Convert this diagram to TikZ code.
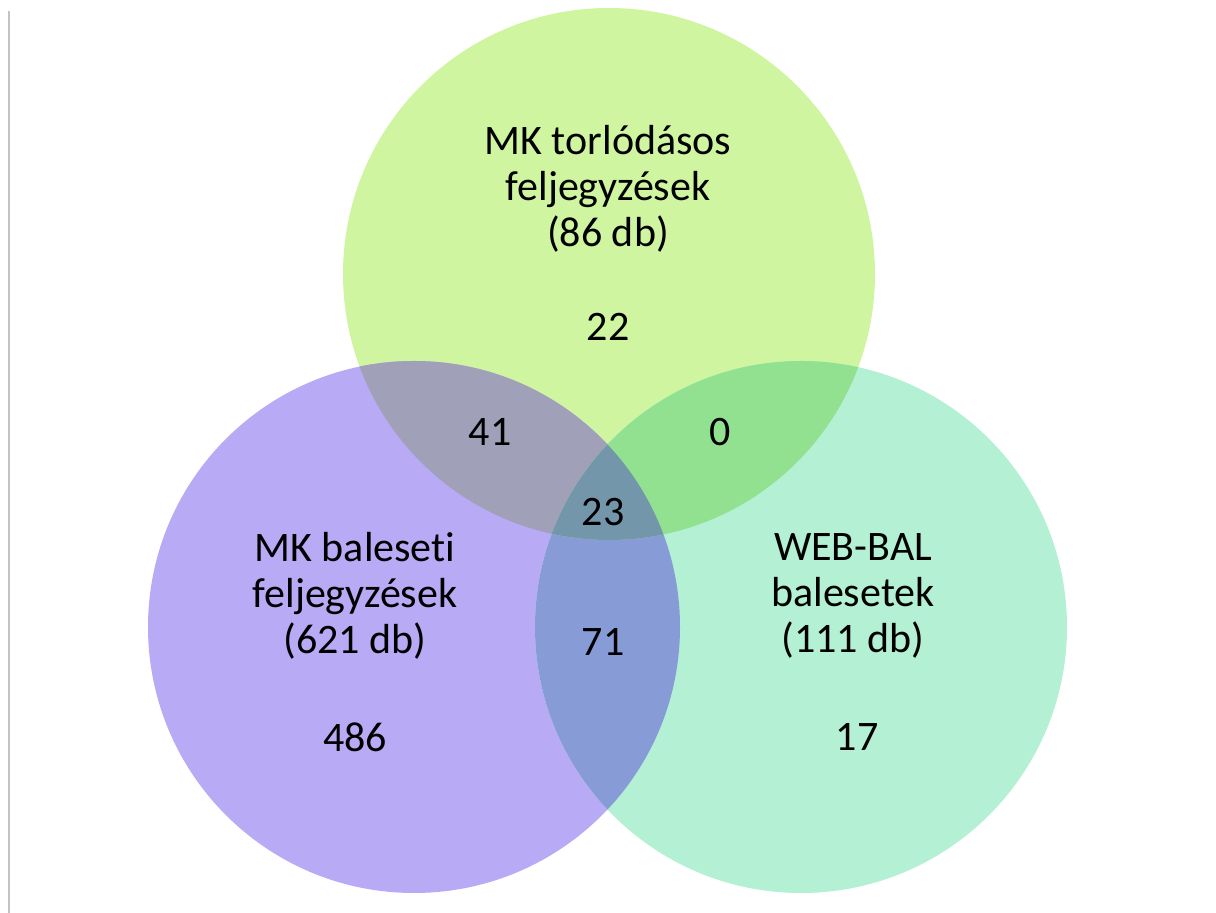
\documentclass[tikz,border=0pt]{standalone}
\usepackage{fontspec}
\setmainfont{Carlito}[Ligatures=NoCommon]
\usepackage{tikz}
\usetikzlibrary{positioning}

\definecolor{torlColor}{RGB}{207,245,160}
\definecolor{balColor}{RGB}{184,170,245}
\definecolor{webColor}{RGB}{180,240,212}
\definecolor{torlBalColor}{RGB}{160,160,185}
\definecolor{torlWebColor}{RGB}{145,225,145}
\definecolor{balWebColor}{RGB}{135,155,215}
\definecolor{allColor}{RGB}{115,150,170}
\definecolor{frameGray}{RGB}{195,195,195}

\newcommand{\rad}{133pt}

\begin{document}
\begin{tikzpicture}[x=0.5pt, y=-0.5pt, every node/.style={font=\fontsize{21}{23}\selectfont}]
\tikzstyle{setlabel} = [align=center, inner sep=0pt]
\tikzstyle{count} = [inner sep=0pt]

\useasboundingbox (0,0) rectangle (1216,913);

% Frame line
\draw[line width=1pt, frameGray] (9,11) -- (9,913);

% Centres
\coordinate (cT) at (609,274);
\coordinate (cL) at (414,627);
\coordinate (cR) at (801,627);

% Circles
\fill[torlColor] (cT) circle (\rad);
\fill[balColor] (cL) circle (\rad);
\fill[webColor] (cR) circle (\rad);

% Overlaps
\begin{scope}
  \clip (cL) circle (\rad);
  \fill[balWebColor] (cR) circle (\rad);
\end{scope}
\begin{scope}
  \clip (cT) circle (\rad);
  \fill[torlBalColor] (cL) circle (\rad);
  \fill[torlWebColor] (cR) circle (\rad);
  \clip (cL) circle (\rad);
  \fill[allColor] (cR) circle (\rad);
\end{scope}

% Set labels
\node[setlabel] (torl) at (608,189) {MK torlódásos\\feljegyzések\\(86 db)};
\node[setlabel] (bal) at (355,596) {MK baleseti\\feljegyzések\\(621 db)};
\node[setlabel] (web) at (853,596) {WEB-BAL\\balesetek\\(111 db)};

% Counts
\node[count] (n22) at (608,327) {22};
\node[count] (n41) at (490,432) {41};
\node[count] (n0) at (720,432) {0};
\node[count] (n23) at (603,512) {23};
\node[count] (n71) at (603,642) {71};
\node[count] (n486) at (355,737) {486};
\node[count] (n17) at (857,737) {17};

\end{tikzpicture}
\end{document}
